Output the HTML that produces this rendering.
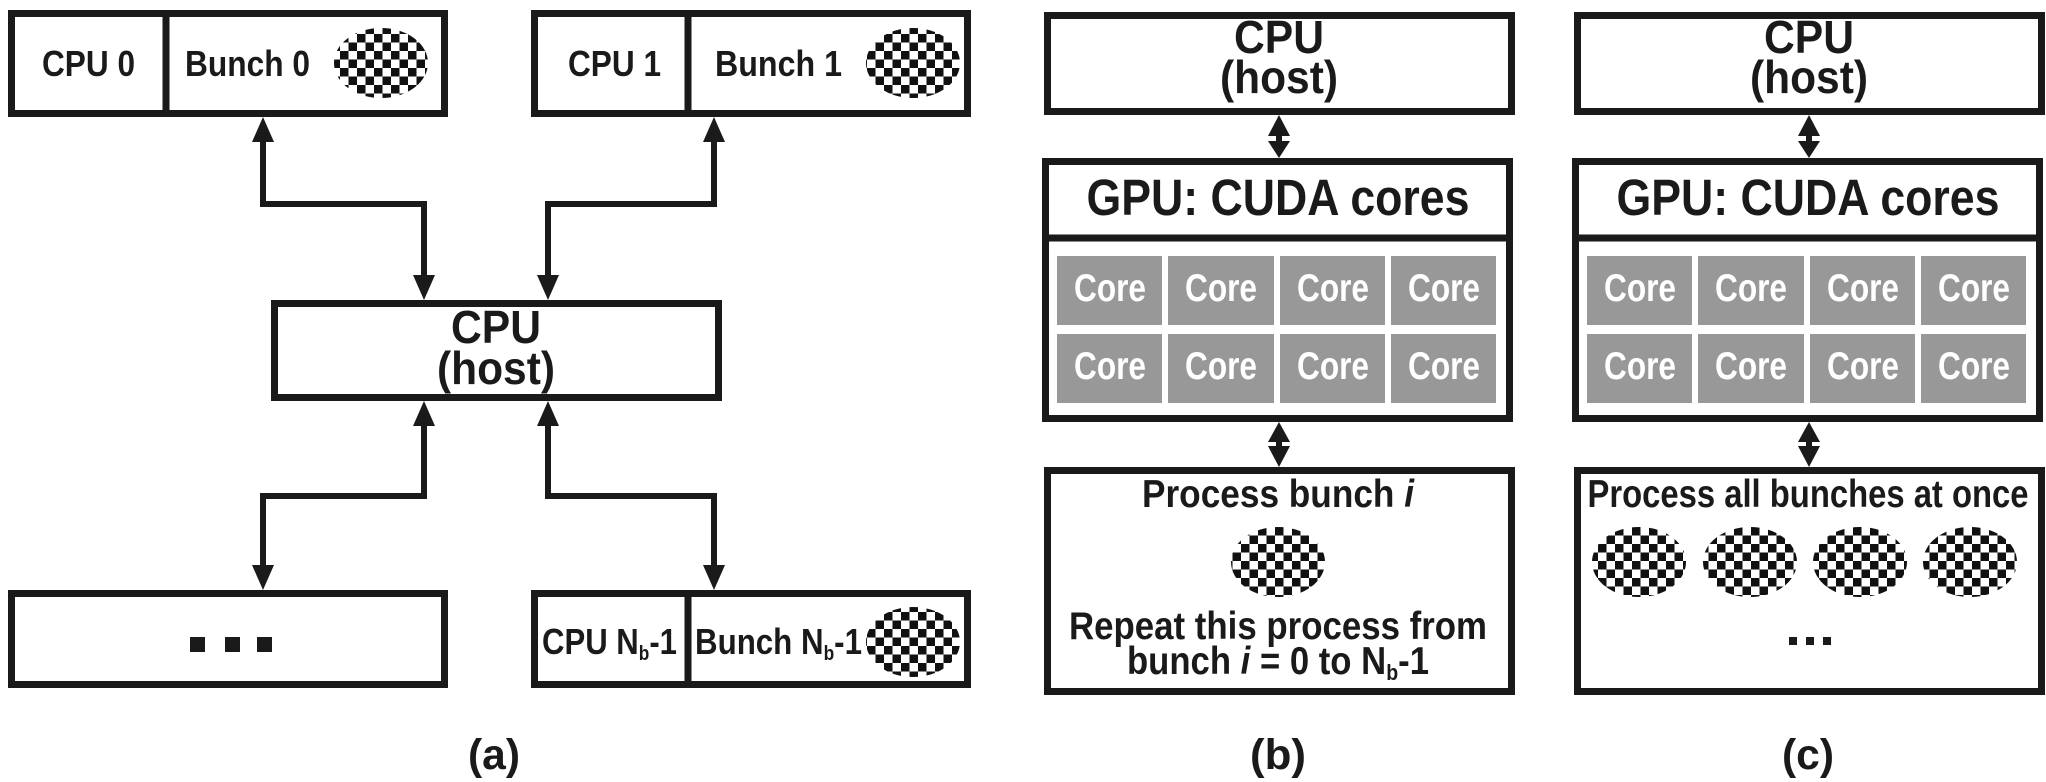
<!DOCTYPE html>
<html><head><meta charset="utf-8"><style>
html,body{margin:0;padding:0;background:#fff;}
svg{display:block;}
text{font-family:"Liberation Sans",sans-serif;font-weight:bold;fill:#1a1a1a;}
</style></head><body>
<svg width="2046" height="782" viewBox="0 0 2046 782" xmlns="http://www.w3.org/2000/svg">
<defs>
<pattern id="ck" width="17" height="17" patternUnits="userSpaceOnUse">
<rect width="17" height="17" fill="#fff"/>
<rect width="8.5" height="8.5" fill="#111"/>
<rect x="8.5" y="8.5" width="8.5" height="8.5" fill="#111"/>
</pattern>
</defs>
<g fill="none" stroke="#1a1a1a" stroke-width="7">
<rect x="11.5" y="13.5" width="433" height="100"/>
<line x1="166" y1="13" x2="166" y2="114"/>
<rect x="534.5" y="13.5" width="433" height="100"/>
<line x1="688" y1="13" x2="688" y2="114"/>
<rect x="274.5" y="303.5" width="444" height="94"/>
<rect x="11.5" y="593.5" width="433" height="91"/>
<rect x="534.5" y="593.5" width="433" height="91"/>
<line x1="688" y1="593" x2="688" y2="685"/>
<rect x="1047.5" y="15.5" width="464" height="96"/>
<rect x="1045.5" y="161.5" width="464" height="257"/>
<line x1="1045" y1="238" x2="1510" y2="238"/>
<rect x="1047.5" y="470.5" width="464" height="221"/>
<rect x="1577.5" y="15.5" width="464" height="96"/>
<rect x="1575.5" y="161.5" width="464" height="257"/>
<line x1="1575" y1="238" x2="2040" y2="238"/>
<rect x="1577.5" y="470.5" width="464" height="221"/>
</g>
<g fill="none" stroke="#1a1a1a" stroke-width="6">
<polyline points="263,140 263,204 424,204 424,275"/>
<polyline points="714,140 714,204 548,204 548,275"/>
<polyline points="424,425 424,496 263,496 263,565"/>
<polyline points="548,425 548,496 714,496 714,565"/>
<line x1="1279" y1="135" x2="1279" y2="142"/>
<line x1="1279" y1="440" x2="1279" y2="448"/>
<line x1="1809" y1="135" x2="1809" y2="142"/>
<line x1="1809" y1="440" x2="1809" y2="448"/>
</g>
<g fill="#1a1a1a">
<polygon points="263,117 252,142 274,142"/>
<polygon points="424,300 413,275 435,275"/>
<polygon points="714,117 703,142 725,142"/>
<polygon points="548,300 537,275 559,275"/>
<polygon points="424,401 413,426 435,426"/>
<polygon points="263,590 252,565 274,565"/>
<polygon points="548,401 537,426 559,426"/>
<polygon points="714,590 703,565 725,565"/>
<polygon points="1279,115 1268,136 1290,136"/>
<polygon points="1279,158 1268,141 1290,141"/>
<polygon points="1279,422 1268,442 1290,442"/>
<polygon points="1279,467 1268,446 1290,446"/>
<polygon points="1809,115 1798,136 1820,136"/>
<polygon points="1809,158 1798,141 1820,141"/>
<polygon points="1809,422 1798,442 1820,442"/>
<polygon points="1809,467 1798,446 1820,446"/>
</g>
<g fill="url(#ck)">
<ellipse cx="381" cy="63" rx="47" ry="35"/>
<ellipse cx="913" cy="63" rx="47" ry="35"/>
<ellipse cx="913" cy="642" rx="47" ry="35"/>
<ellipse cx="1278" cy="562" rx="47" ry="35"/>
<ellipse cx="1639" cy="562" rx="47" ry="35"/>
<ellipse cx="1750" cy="562" rx="47" ry="35"/>
<ellipse cx="1860" cy="562" rx="47" ry="35"/>
<ellipse cx="1970" cy="562" rx="47" ry="35"/>
</g>
<g fill="#1a1a1a">
<rect x="190" y="637" width="15" height="15"/>
<rect x="225" y="637" width="15" height="15"/>
<rect x="257" y="637" width="15" height="15"/>
<rect x="1789" y="637" width="8" height="8"/>
<rect x="1806" y="637" width="8" height="8"/>
<rect x="1823" y="637" width="8" height="8"/>
</g>
<g fill="#989898">
<rect x="1057" y="256" width="105" height="69"/><rect x="1168" y="256" width="106" height="69"/><rect x="1280" y="256" width="105" height="69"/><rect x="1391" y="256" width="105" height="69"/>
<rect x="1057" y="334" width="105" height="69"/><rect x="1168" y="334" width="106" height="69"/><rect x="1280" y="334" width="105" height="69"/><rect x="1391" y="334" width="105" height="69"/>
<rect x="1587" y="256" width="105" height="69"/><rect x="1698" y="256" width="106" height="69"/><rect x="1810" y="256" width="105" height="69"/><rect x="1921" y="256" width="105" height="69"/>
<rect x="1587" y="334" width="105" height="69"/><rect x="1698" y="334" width="106" height="69"/><rect x="1810" y="334" width="105" height="69"/><rect x="1921" y="334" width="105" height="69"/>
</g>
<g font-size="39" text-anchor="middle">
<text x="1110" y="301" textLength="72" lengthAdjust="spacingAndGlyphs" style="fill:#fff">Core</text>
<text x="1221" y="301" textLength="72" lengthAdjust="spacingAndGlyphs" style="fill:#fff">Core</text>
<text x="1333" y="301" textLength="72" lengthAdjust="spacingAndGlyphs" style="fill:#fff">Core</text>
<text x="1444" y="301" textLength="72" lengthAdjust="spacingAndGlyphs" style="fill:#fff">Core</text>
<text x="1110" y="379" textLength="72" lengthAdjust="spacingAndGlyphs" style="fill:#fff">Core</text>
<text x="1221" y="379" textLength="72" lengthAdjust="spacingAndGlyphs" style="fill:#fff">Core</text>
<text x="1333" y="379" textLength="72" lengthAdjust="spacingAndGlyphs" style="fill:#fff">Core</text>
<text x="1444" y="379" textLength="72" lengthAdjust="spacingAndGlyphs" style="fill:#fff">Core</text>
<text x="1640" y="301" textLength="72" lengthAdjust="spacingAndGlyphs" style="fill:#fff">Core</text>
<text x="1751" y="301" textLength="72" lengthAdjust="spacingAndGlyphs" style="fill:#fff">Core</text>
<text x="1863" y="301" textLength="72" lengthAdjust="spacingAndGlyphs" style="fill:#fff">Core</text>
<text x="1974" y="301" textLength="72" lengthAdjust="spacingAndGlyphs" style="fill:#fff">Core</text>
<text x="1640" y="379" textLength="72" lengthAdjust="spacingAndGlyphs" style="fill:#fff">Core</text>
<text x="1751" y="379" textLength="72" lengthAdjust="spacingAndGlyphs" style="fill:#fff">Core</text>
<text x="1863" y="379" textLength="72" lengthAdjust="spacingAndGlyphs" style="fill:#fff">Core</text>
<text x="1974" y="379" textLength="72" lengthAdjust="spacingAndGlyphs" style="fill:#fff">Core</text>
</g>
<g font-size="36">
<text x="42" y="76" textLength="93" lengthAdjust="spacingAndGlyphs">CPU 0</text>
<text x="185" y="76" textLength="125" lengthAdjust="spacingAndGlyphs">Bunch 0</text>
<text x="568" y="76" textLength="93" lengthAdjust="spacingAndGlyphs">CPU 1</text>
<text x="715" y="76" textLength="127" lengthAdjust="spacingAndGlyphs">Bunch 1</text>
<text x="542" y="654" textLength="135" lengthAdjust="spacingAndGlyphs">CPU N<tspan font-size="20" dy="6">b</tspan><tspan dy="-6">-1</tspan></text>
<text x="695" y="654" textLength="167" lengthAdjust="spacingAndGlyphs">Bunch N<tspan font-size="20" dy="6">b</tspan><tspan dy="-6">-1</tspan></text>
</g>
<g font-size="46" text-anchor="middle">
<text x="496" y="343" textLength="90" lengthAdjust="spacingAndGlyphs">CPU</text>
<text x="496" y="384" textLength="118" lengthAdjust="spacingAndGlyphs">(host)</text>
<text x="1279" y="53" textLength="90" lengthAdjust="spacingAndGlyphs">CPU</text>
<text x="1279" y="93" textLength="118" lengthAdjust="spacingAndGlyphs">(host)</text>
<text x="1809" y="53" textLength="90" lengthAdjust="spacingAndGlyphs">CPU</text>
<text x="1809" y="93" textLength="118" lengthAdjust="spacingAndGlyphs">(host)</text>
</g>
<g font-size="51" text-anchor="middle">
<text x="1278" y="215" textLength="383" lengthAdjust="spacingAndGlyphs">GPU: CUDA cores</text>
<text x="1808" y="215" textLength="383" lengthAdjust="spacingAndGlyphs">GPU: CUDA cores</text>
</g>
<g font-size="39" text-anchor="middle">
<text x="1278" y="507" textLength="272" lengthAdjust="spacingAndGlyphs">Process bunch <tspan font-style="italic">i</tspan></text>
<text x="1278" y="639" textLength="418" lengthAdjust="spacingAndGlyphs">Repeat this process from</text>
<text x="1278" y="674" textLength="302" lengthAdjust="spacingAndGlyphs">bunch <tspan font-style="italic">i</tspan> = 0 to N<tspan font-size="22" dy="6">b</tspan><tspan dy="-6">-1</tspan></text>
<text x="1808" y="507" textLength="441" lengthAdjust="spacingAndGlyphs">Process all bunches at once</text>
</g>
<g font-size="43" text-anchor="middle">
<text x="494" y="769" textLength="52" lengthAdjust="spacingAndGlyphs">(a)</text>
<text x="1278" y="769" textLength="56" lengthAdjust="spacingAndGlyphs">(b)</text>
<text x="1808" y="769" textLength="52" lengthAdjust="spacingAndGlyphs">(c)</text>
</g>
</svg>
</body></html>
